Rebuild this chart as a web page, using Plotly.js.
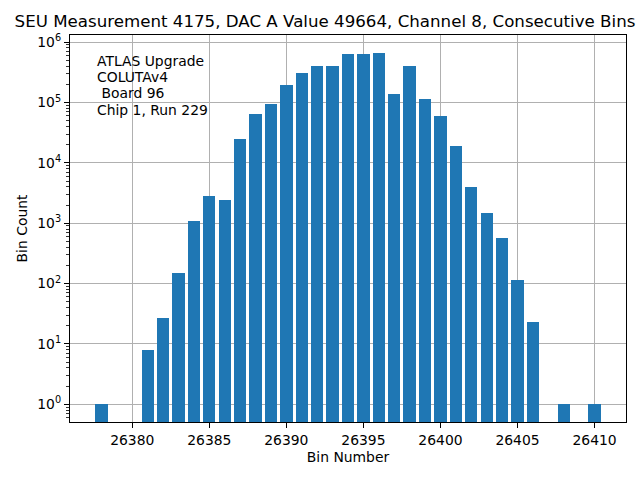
<!DOCTYPE html>
<html>
<head>
<meta charset="utf-8">
<script src="https://cdn.plot.ly/plotly-3.0.1.min.js"></script>
<style>html,body{margin:0;padding:0;background:#fff;}#chart{width:640px;height:480px;}</style>
</head>
<body>
<div id="chart"></div>
<script>
// Bin numbers with non-zero counts (bins 26379, 26380, 26407, 26409 are empty)
const bins = [26378, 26381, 26382, 26383, 26384, 26385, 26386, 26387, 26388, 26389,
              26390, 26391, 26392, 26393, 26394, 26395, 26396, 26397, 26398, 26399,
              26400, 26401, 26402, 26403, 26404, 26405, 26406, 26408, 26410];
const counts = [1, 8, 27, 150, 1090, 2830, 2430, 24900, 64600, 96000,
                195000, 310000, 405000, 405000, 640000, 640000, 665000, 139000, 405000, 115000,
                59700, 19000, 4000, 1480, 578, 116, 23, 1, 1];
const yTickVals = [1, 10, 100, 1000, 10000, 100000, 1000000];
const yTickText = ['10<sup>0</sup>', '10<sup>1</sup>', '10<sup>2</sup>', '10<sup>3</sup>',
                   '10<sup>4</sup>', '10<sup>5</sup>', '10<sup>6</sup>'];
const infoLines = ['ATLAS Upgrade', 'COLUTAv4', '\u00a0Board 96', 'Chip 1, Run 229'];
const titleText = 'SEU Measurement 4175, DAC A Value 49664, Channel 8, Consecutive Bins';

const minorVals = [];
for (let k = -1; k <= 6; k++) {
  for (let m = 2; m <= 9; m++) minorVals.push(m * Math.pow(10, k));
}

const FONT = 'DejaVu Sans, sans-serif';
const W = 640, H = 480;
const L = 70, R = 626, T = 35, B = 422;

const annotations = infoLines.map((t, i) => ({
  text: t, xref: 'paper', yref: 'paper',
  x: (96 - L) / (R - L), y: (B - (61 + 16.2 * i)) / (B - T),
  xanchor: 'left', yanchor: 'middle', showarrow: false, borderpad: 0,
  font: {family: FONT, size: 13.9, color: '#000'}
}));

const trace = {
  type: 'bar', x: bins, y: counts, width: 0.8,
  marker: {color: '#1f77b4', line: {width: 0}},
  hoverinfo: 'x+y'
};

const layout = {
  width: W, height: H,
  margin: {l: L, r: W - R, t: T, b: H - B, pad: 0},
  paper_bgcolor: '#fff', plot_bgcolor: '#fff',
  font: {family: FONT, size: 13.9, color: '#000'},
  showlegend: false,
  title: {text: titleText, xref: 'container', yref: 'container',
          x: 325 / W, y: 1 - 21 / H, xanchor: 'center', yanchor: 'middle',
          font: {family: FONT, size: 16.67, color: '#000'}},
  xaxis: {
    range: [26375.96, 26412.04], tick0: 26380, dtick: 5, tickformat: 'd',
    showgrid: true, gridcolor: '#b0b0b0', gridwidth: 1.1,
    zeroline: false, showline: true, mirror: true, linecolor: '#000', linewidth: 1.1,
    ticks: 'outside', ticklen: 5, tickwidth: 1.1, tickcolor: '#000',
    tickfont: {family: FONT, size: 13.9, color: '#000'},
    title: {text: 'Bin Number', font: {family: FONT, size: 13.9, color: '#000'}, standoff: 5}
  },
  yaxis: {
    type: 'log', range: [-0.294, 6.118],
    tickmode: 'array', tickvals: yTickVals, ticktext: yTickText,
    showgrid: true, gridcolor: '#b0b0b0', gridwidth: 1.1,
    zeroline: false, showline: true, mirror: true, linecolor: '#000', linewidth: 1.1,
    ticks: 'outside', ticklen: 5, tickwidth: 1.1, tickcolor: '#000',
    tickfont: {family: FONT, size: 13.9, color: '#000'},
    minor: {tickmode: 'array', tickvals: minorVals, ticks: 'outside', ticklen: 3,
            tickwidth: 0.8, tickcolor: '#000', showgrid: false},
    title: {text: 'Bin Count', font: {family: FONT, size: 13.9, color: '#000'}, standoff: 6}
  },
  bargap: 0,
  annotations: annotations
};

Plotly.newPlot('chart', [trace], layout, {displayModeBar: false, staticPlot: true});
</script>
</body>
</html>
